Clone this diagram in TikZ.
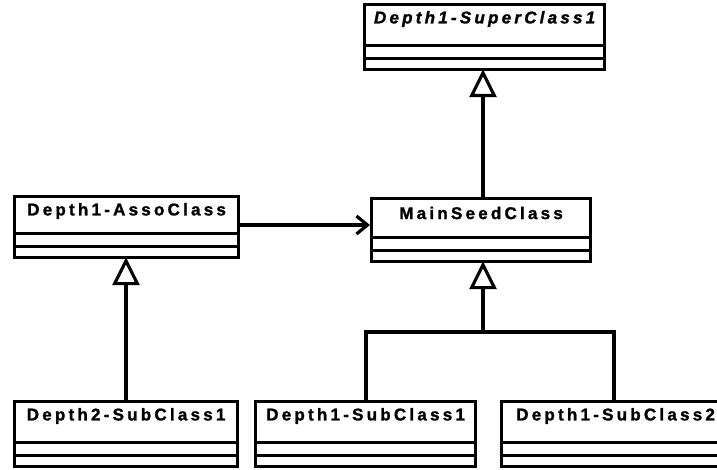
\documentclass[tikz,border=0pt]{standalone}
\usepackage{fontspec}
\setmainfont{Liberation Sans}
\newfontfamily\umlfont[LetterSpace=19,FakeBold=1.4]{Liberation Sans}
\usetikzlibrary{arrows.meta,calc}
\tikzset{
  cls/.style={draw, line width=3.2pt, fill=white, anchor=north west, inner sep=0pt},
  ttl/.style={font=\umlfont\bfseries\fontsize{17}{20}\selectfont, inner sep=0pt, anchor=center},
  gen/.style={line width=3.2pt, -{Triangle[open,length=28pt,width=27pt,line width=3.2pt]}, shorten >=-2pt},
  asc/.style={line width=3.2pt, -{Straight Barb[length=11pt,width=18pt,line width=3.2pt]}},
  lnk/.style={line width=3.2pt}
}
\newcommand{\umlbox}[7]{% name, x, y, w, h, title, style
  \node[cls, minimum width=#4pt, minimum height=#5pt] (#1) at (#2pt,-#3pt) {};
  \node[ttl, #7] (#1t) at ($(#1.north)+(0,-16pt)$) {#6};
  \draw[line width=3.2pt] ($(#1.south west)+(0,26pt)$) -- ($(#1.south east)+(0,26pt)$);
  \draw[line width=3.2pt] ($(#1.south west)+(0,13pt)$) -- ($(#1.south east)+(0,13pt)$);
}
\begin{document}
\begin{tikzpicture}[x=1pt,y=-1pt]
\useasboundingbox[fill=white] (0,0) rectangle (717,470);
\clip (0,0) rectangle (717,470);
\umlbox{sup}{363}{3}{240}{65}{Depth1-SuperClass1}{font=\umlfont\bfseries\itshape\fontsize{17}{20}\selectfont}
\umlbox{asso}{13}{195}{224}{61}{Depth1-AssoClass}{}
\umlbox{main}{370}{197}{219}{63}{MainSeedClass}{}
\umlbox{dtwo}{13}{400}{223}{65}{Depth2-SubClass1}{}
\umlbox{sone}{254}{400}{220}{65}{Depth1-SubClass1}{}
\umlbox{stwo}{500}{400}{228}{65}{Depth1-SubClass2}{}
% generalizations
\draw[gen] (main.north -| 483,0) -- (sup.south -| 483,0);
\draw[gen] (dtwo.north -| 126,0) -- (asso.south -| 126,0);
\coordinate (j) at (483,332);
\coordinate (jl) at (366,332);
\coordinate (jr) at (614,332);
\draw[gen] (j) -- (main.south -| j);
\draw[lnk] (sone.north -| jl) -- (jl) -- (jr) -- (stwo.north -| jr);
% association
\draw[asc] (asso.east |- 0,225) -- (main.west |- 0,225);
\end{tikzpicture}
\end{document}
